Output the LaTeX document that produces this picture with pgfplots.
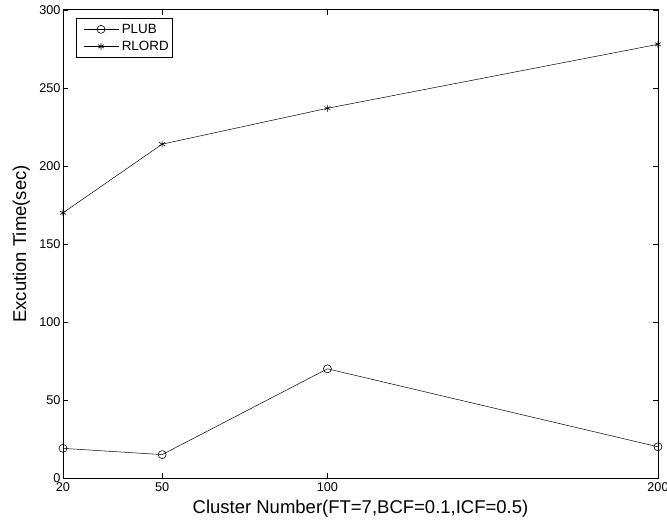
\documentclass[border=0pt]{standalone}
\usepackage{pgfplots}
\pgfplotsset{compat=1.18}
\usepackage{fontspec}
\setmainfont{Liberation Sans}
\begin{document}
\begin{tikzpicture}
\begin{axis}[
  name=ax,
  scale only axis,
  width=595bp, height=468bp,
  xmin=20, xmax=200, ymin=0, ymax=300,
  xtick={20,50,100,200},
  ytick={0,50,100,150,200,250,300},
  tick align=inside,
  major tick length=5bp,
  tick style={black, line width=0.5pt},
  axis line style={line width=1pt},
  /pgf/number format/assume math mode=true,
  ticklabel style={font=\fontsize{12.7bp}{14bp}\selectfont},
  yticklabel style={xshift=1bp},
  xticklabel style={yshift=-1.5bp},
  xlabel={Cluster Number(FT=7,BCF=0.1,ICF=0.5)},
  ylabel={Excution Time(sec)},
  label style={font=\fontsize{18.5bp}{20bp}\selectfont},
  xlabel style={at={(axis description cs:0.5,-0.0769)}, anchor=base},
  ylabel style={at={(axis description cs:-0.07,0.5)}, anchor=center},
  legend cell align=left,
  legend style={at={(rel axis cs:0,1)}, xshift=13bp, yshift=-8bp, anchor=north west,
    font=\fontsize{13.4bp}{15bp}\selectfont, draw=black, line width=0.6pt,
    inner xsep=1.5bp, inner ysep=3.5bp, row sep=2bp, column sep=0bp,
    cells={inner sep=0bp, text height=9.6bp, text depth=3.4bp}},
  legend image code/.code={\path (-5.5bp,0bp) (36bp,0bp); \draw[#1, mark=none] (0bp,0bp) -- (35bp,0bp); \draw[#1, only marks] plot coordinates {(17.5bp,0bp)};},
]
\addplot[black, line width=0.5pt, mark=o, mark size=4bp, mark options={line width=0.6pt}] coordinates {(20,19) (50,15) (100,70) (200,20)};
\addlegendentry{PLUB}
\addplot[black, line width=0.5pt, mark=asterisk, mark size=3.5bp, mark options={line width=0.6pt}] coordinates {(20,170) (50,214) (100,237) (200,278)};
\addlegendentry{RLORD}
\end{axis}
\pgfresetboundingbox
\path[use as bounding box] ([xshift=-63bp,yshift=-42bp]ax.south west) rectangle ([xshift=9bp,yshift=10bp]ax.north east);
\end{tikzpicture}
\end{document}
